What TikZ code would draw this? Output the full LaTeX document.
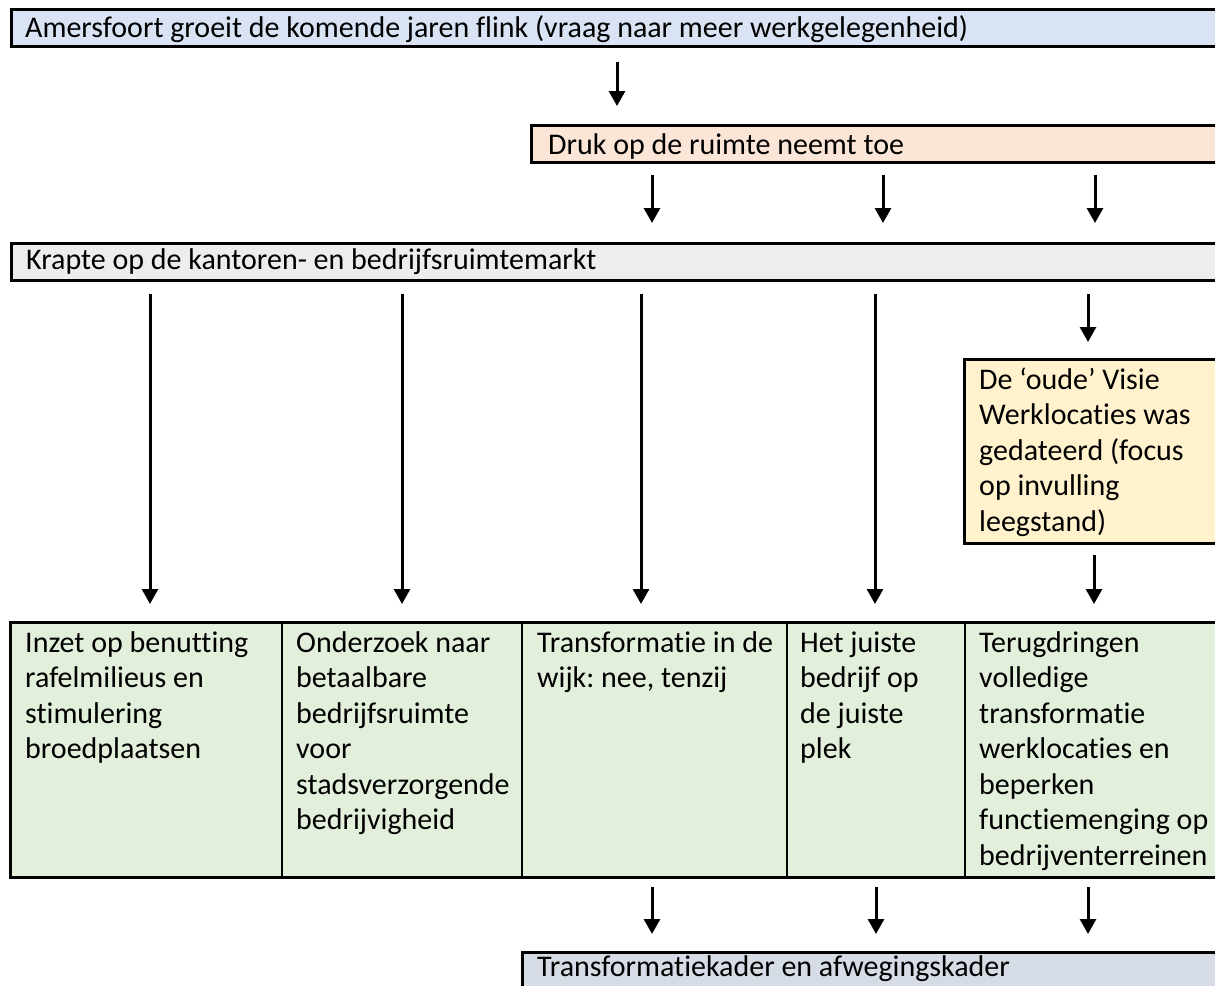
\documentclass[tikz,border=0pt]{standalone}
\usepackage{fontspec}
\setmainfont[Ligatures=NoCommon]{Carlito}
\usetikzlibrary{arrows.meta}
\definecolor{cblue}{HTML}{DAE3F3}
\definecolor{corange}{HTML}{FBE5D6}
\definecolor{cgray}{HTML}{EDEDED}
\definecolor{cyellow}{HTML}{FFF2CC}
\definecolor{cgreen}{HTML}{E2EFDA}
\definecolor{cslate}{HTML}{D6DCE5}
\frenchspacing
\begin{document}
\begin{tikzpicture}[x=1pt,y=-1pt,
  bar/.style={draw=black, line width=2.8pt, anchor=north west, inner sep=0pt, minimum width=#1},
  bar/.default=1240pt,
  cell/.style={draw=black, line width=2pt, fill=cgreen, anchor=north west, inner sep=0pt, minimum height=254pt, minimum width=#1},
  txt/.style={anchor=base west, inner sep=0pt, align=left, font=\fontsize{30}{35.5}\selectfont},
  arr/.style={line width=3pt, -{Triangle[width=16pt,length=15pt]}}]
\useasboundingbox (0,0) rectangle (1215,985);
\clip (0,0) rectangle (1215,985);
\fill[white] (0,0) rectangle (1215,985);

% boxes
\node[bar, fill=cblue, minimum height=37pt] (top) at (10,8) {};
\node[bar=800pt, fill=corange, minimum height=37pt] (druk) at (530,124) {};
\node[bar, fill=cgray, minimum height=37pt] (krapte) at (10,242) {};
\node[bar=300pt, fill=cyellow, minimum height=184pt] (oude) at (963,358) {};
\node[cell=271pt] (c1) at (10,622) {};
\node[cell=240pt] (c2) at (281,622) {};
\node[cell=265pt] (c3) at (521,622) {};
\node[cell=178pt] (c4) at (786,622) {};
\node[cell=276pt] (c5) at (964,622) {};
\draw[line width=2.8pt] (c5.north east) -- (c1.north west) -- (c1.south west) -- (c5.south east);
\node[bar=800pt, fill=cslate, minimum height=60pt] (trans) at (521,951) {};

% texts (anchor is the baseline of the last line)
\node[txt] (ttop) at (25,37) {Amersfoort groeit de komende jaren flink (vraag naar meer werkgelegenheid)};
\node[txt] (tdruk) at (548,154) {Druk op de ruimte neemt toe};
\node[txt] (tkrapte) at (26,269) {Krapte op de kantoren- en bedrijfsruimtemarkt};
\node[txt] (toude) at (979,{389+4*35.5}) {De ‘oude’ Visie\\Werklocaties was\\gedateerd (focus\\op invulling\\leegstand)};
\node[txt] (t1) at (25,{652+3*35.5}) {Inzet op benutting\\rafelmilieus en\\stimulering\\broedplaatsen};
\node[txt] (t2) at (296,{652+5*35.5}) {Onderzoek naar\\betaalbare\\bedrijfsruimte\\voor\\stadsverzorgende\\bedrijvigheid};
\node[txt] (t3) at (537,{652+1*35.5}) {Transformatie in de\\wijk: nee, tenzij};
\node[txt] (t4) at (800,{652+3*35.5}) {Het juiste\\bedrijf op\\de juiste\\plek};
\node[txt] (t5) at (979,{652+6*35.5}) {Terugdringen\\volledige\\transformatie\\werklocaties en\\beperken\\functiemenging op\\bedrijventerreinen};
\node[txt] (ttrans) at (537,976) {Transformatiekader en afwegingskader};

% arrow end points
\coordinate (a0s) at (617,62);  \coordinate (a0e) at (617,106);
\coordinate (b1s) at (652,175); \coordinate (b1e) at (652,223);
\coordinate (b2s) at (883,175); \coordinate (b2e) at (883,223);
\coordinate (b3s) at (1095,175); \coordinate (b3e) at (1095,223);
\coordinate (l1s) at (150,294); \coordinate (l1e) at (150,604);
\coordinate (l2s) at (402,294); \coordinate (l2e) at (402,604);
\coordinate (l3s) at (641,294); \coordinate (l3e) at (641,604);
\coordinate (l4s) at (875,294); \coordinate (l4e) at (875,604);
\coordinate (o1s) at (1088,294); \coordinate (o1e) at (1088,342);
\coordinate (o2s) at (1094,555); \coordinate (o2e) at (1094,604);
\coordinate (d1s) at (652,887); \coordinate (d1e) at (652,934);
\coordinate (d2s) at (876,887); \coordinate (d2e) at (876,934);
\coordinate (d3s) at (1088,887); \coordinate (d3e) at (1088,934);

\foreach \p in {a0,b1,b2,b3,l1,l2,l3,l4,o1,o2,d1,d2,d3}
  \draw[arr] (\p s) -- (\p e);
\end{tikzpicture}
\end{document}
